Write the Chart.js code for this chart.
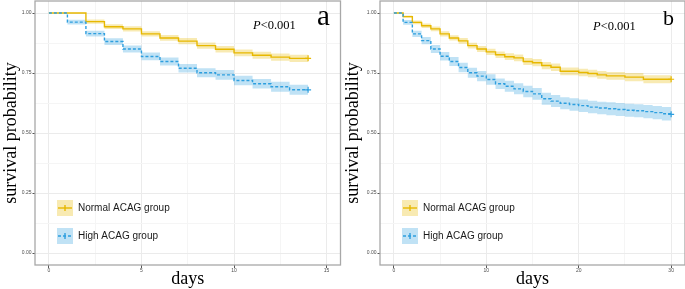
<!DOCTYPE html>
<html>
<head>
<meta charset="utf-8">
<script src="https://cdn.jsdelivr.net/npm/chart.js@4.4.1/dist/chart.umd.min.js"></script>
<style>
html, body { margin: 0; padding: 0; background: #fff; }
#wrap { position: relative; width: 685px; height: 289px; overflow: hidden; }
canvas { position: absolute; top: 0; }
#chartA { left: 0; }
#chartB { left: 342px; }
</style>
</head>
<body>
<div id="wrap">
  <canvas id="chartA" width="342" height="289"></canvas>
  <canvas id="chartB" width="343" height="289"></canvas>
</div>
<script>
// groups
const groupLabels = ['Normal ACAG group', 'High ACAG group'];
const groupColors = ['#E7B800', '#2E9FDF'];
const bandColors = ['rgba(231,184,0,0.3)', 'rgba(46,159,223,0.3)'];

// panel a (14 days)
const daysA = [0, 1, 2, 3, 4, 5, 6, 7, 8, 9, 10, 11, 12, 13, 14];
const normalA     = [1, 1, 0.964, 0.943, 0.934, 0.913, 0.896, 0.883, 0.864, 0.849, 0.834, 0.824, 0.816, 0.811, 0.811];
const normalLowA  = [1, 1, 0.955, 0.933, 0.923, 0.902, 0.884, 0.870, 0.851, 0.835, 0.820, 0.809, 0.801, 0.796, 0.796];
const normalHighA = [1, 1, 0.973, 0.953, 0.945, 0.924, 0.908, 0.896, 0.877, 0.863, 0.848, 0.839, 0.831, 0.826, 0.826];
const highA       = [1, 0.962, 0.914, 0.881, 0.850, 0.819, 0.798, 0.770, 0.751, 0.742, 0.719, 0.705, 0.693, 0.680, 0.680];
const highLowA    = [1, 0.952, 0.902, 0.867, 0.835, 0.803, 0.781, 0.752, 0.732, 0.722, 0.699, 0.685, 0.672, 0.659, 0.659];
const highHighA   = [1, 0.972, 0.926, 0.895, 0.865, 0.835, 0.815, 0.788, 0.770, 0.762, 0.739, 0.725, 0.714, 0.701, 0.701];

// panel b (30 days)
const daysB = [0, 1, 2, 3, 4, 5, 6, 7, 8, 9, 10, 11, 12, 13, 14, 15, 16, 17, 18, 19, 20, 21, 22, 23, 24, 25, 26, 27, 28, 29, 30];
const normalB     = [1, 0.985, 0.961, 0.947, 0.934, 0.913, 0.896, 0.884, 0.864, 0.850, 0.838, 0.826, 0.818, 0.813, 0.798, 0.793,
                     0.781, 0.774, 0.757, 0.757, 0.752, 0.748, 0.742, 0.738, 0.738, 0.733, 0.733, 0.724, 0.724, 0.724, 0.724];
const normalLowB  = [1, 0.980, 0.953, 0.938, 0.924, 0.902, 0.885, 0.872, 0.852, 0.837, 0.825, 0.812, 0.804, 0.799, 0.783, 0.778,
                     0.766, 0.758, 0.741, 0.741, 0.736, 0.732, 0.726, 0.722, 0.722, 0.716, 0.716, 0.707, 0.707, 0.707, 0.707];
const normalHighB = [1, 0.990, 0.969, 0.956, 0.944, 0.924, 0.907, 0.896, 0.876, 0.863, 0.851, 0.840, 0.832, 0.827, 0.813, 0.808,
                     0.796, 0.790, 0.773, 0.773, 0.768, 0.764, 0.758, 0.754, 0.754, 0.750, 0.750, 0.741, 0.741, 0.741, 0.741];
const highB       = [1, 0.961, 0.913, 0.885, 0.850, 0.820, 0.798, 0.773, 0.751, 0.737, 0.723, 0.705, 0.695, 0.684, 0.673, 0.663,
                     0.643, 0.633, 0.624, 0.619, 0.614, 0.608, 0.604, 0.601, 0.598, 0.595, 0.593, 0.589, 0.585, 0.580, 0.578];
const highLowB    = [1, 0.951, 0.900, 0.870, 0.833, 0.802, 0.779, 0.753, 0.730, 0.716, 0.701, 0.683, 0.672, 0.661, 0.649, 0.639,
                     0.618, 0.608, 0.599, 0.593, 0.588, 0.582, 0.578, 0.574, 0.571, 0.568, 0.566, 0.561, 0.557, 0.552, 0.550];
const highHighB   = [1, 0.971, 0.926, 0.900, 0.867, 0.838, 0.817, 0.793, 0.772, 0.758, 0.745, 0.727, 0.718, 0.707, 0.697, 0.687,
                     0.668, 0.658, 0.649, 0.645, 0.640, 0.634, 0.630, 0.628, 0.625, 0.622, 0.620, 0.617, 0.613, 0.608, 0.606];

// axes
const xTicksA = [0, 5, 10, 15];
const xTicksB = [0, 10, 20, 30];
const yTicks = [0, 0.25, 0.5, 0.75, 1];
const pValueText = ['P', '<0.001'];

const serif = '"Liberation Serif", "Times New Roman", Times, serif';
const sans = '"Liberation Sans", Arial, Helvetica, sans-serif';

const pts = (days, vals) => days.map((d, i) => ({ x: d, y: vals[i] }));
const withMinor = (ticks) => {
  const out = ticks.slice();
  for (let i = 0; i < ticks.length - 1; i++) out.push((ticks[i] + ticks[i + 1]) / 2);
  return out.sort((a, b) => a - b);
};

// draws border, p-value, panel tag and the in-plot legend
const decorPlugin = {
  id: 'decor',
  afterDatasetsDraw(chart, args, opts) {
    const ctx = chart.ctx;
    const ca = chart.chartArea;
    ctx.save();
    ctx.strokeStyle = '#a8a8a8';
    ctx.lineWidth = 1.3;
    ctx.strokeRect(ca.left, ca.top, ca.right - ca.left, ca.bottom - ca.top);

    // p value
    ctx.fillStyle = '#000';
    ctx.textBaseline = 'alphabetic';
    ctx.textAlign = 'left';
    ctx.font = 'italic 12.5px ' + serif;
    ctx.fillText(pValueText[0], opts.pX, opts.pY);
    const w = ctx.measureText(pValueText[0]).width;
    ctx.font = '12.5px ' + serif;
    ctx.fillText(pValueText[1], opts.pX + w, opts.pY);

    // panel tag
    ctx.font = opts.tagSize + 'px ' + serif;
    ctx.fillText(opts.tag, opts.tagX, 25);

    // legend
    groupLabels.forEach((lab, i) => {
      const bx = ca.left + 22, by = 200 + i * 28, s = 16;
      ctx.fillStyle = bandColors[i];
      ctx.fillRect(bx, by, s, s);
      ctx.strokeStyle = groupColors[i];
      ctx.lineWidth = 1.4;
      ctx.setLineDash(i === 1 ? [3, 2] : []);
      ctx.beginPath();
      ctx.moveTo(bx + 1, by + s / 2);
      ctx.lineTo(bx + s - 1, by + s / 2);
      ctx.stroke();
      ctx.setLineDash([]);
      ctx.beginPath();
      ctx.moveTo(bx + s / 2, by + s / 2 - 3);
      ctx.lineTo(bx + s / 2, by + s / 2 + 3);
      ctx.stroke();
      ctx.fillStyle = '#1a1a1a';
      ctx.font = '10px ' + sans;
      ctx.textBaseline = 'middle';
      ctx.fillText(lab, bx + s + 5, by + s / 2);
      ctx.textBaseline = 'alphabetic';
    });
    ctx.restore();
  }
};

function makeChart(id, cfg) {
  const xAll = withMinor(cfg.xTicks);
  const yAll = withMinor(yTicks);
  const xSpan = cfg.xTicks[cfg.xTicks.length - 1] - cfg.xTicks[0];
  const isMajX = (v) => cfg.xTicks.some(t => Math.abs(t - v) < 1e-6);
  const isMajY = (v) => yTicks.some(t => Math.abs(t - v) < 1e-6);
  const lastPoint = (c) => (c.dataIndex === c.dataset.data.length - 1 ? 3 : 0);

  const datasets = [
    { label: groupLabels[1], data: pts(cfg.days, cfg.high), borderColor: groupColors[1], borderWidth: 1.4,
      borderDash: [3, 2], pointStyle: 'cross', pointRadius: lastPoint, pointBorderColor: groupColors[1],
      pointBorderWidth: 1.2, fill: false },
    { label: groupLabels[0], data: pts(cfg.days, cfg.normal), borderColor: groupColors[0], borderWidth: 1.4,
      pointStyle: 'cross', pointRadius: lastPoint, pointBorderColor: groupColors[0],
      pointBorderWidth: 1.2, fill: false },
    { data: pts(cfg.days, cfg.highHigh), borderWidth: 0, pointRadius: 0, backgroundColor: bandColors[1], fill: '+1' },
    { data: pts(cfg.days, cfg.highLow), borderWidth: 0, pointRadius: 0, fill: false },
    { data: pts(cfg.days, cfg.normalHigh), borderWidth: 0, pointRadius: 0, backgroundColor: bandColors[0], fill: '+1' },
    { data: pts(cfg.days, cfg.normalLow), borderWidth: 0, pointRadius: 0, fill: false }
  ];

  return new Chart(document.getElementById(id), {
    type: 'line',
    data: { datasets },
    plugins: [decorPlugin],
    options: {
      responsive: false,
      animation: false,
      events: [],
      elements: { line: { stepped: true, tension: 0 } },
      layout: { autoPadding: false, padding: { top: 1, right: cfg.padRight, left: 0, bottom: 0 } },
      plugins: {
        legend: { display: false },
        tooltip: { enabled: false },
        decor: cfg.decor
      },
      scales: {
        x: {
          type: 'linear',
          min: cfg.xTicks[0] - 0.05 * xSpan,
          max: cfg.xTicks[cfg.xTicks.length - 1] + 0.05 * xSpan,
          afterBuildTicks: (s) => { s.ticks = xAll.map(v => ({ value: v })); },
          afterFit: (s) => { s.height = 24; s.paddingLeft = 0; s.paddingRight = 0; },
          border: { display: false },
          grid: {
            color: (c) => (c.tick && isMajX(c.tick.value) ? '#ebebeb' : '#f5f5f5'),
            tickColor: (c) => (c.tick && isMajX(c.tick.value) ? '#555' : 'rgba(0,0,0,0)'),
            tickLength: 3
          },
          ticks: {
            autoSkip: false, maxRotation: 0, padding: 0,
            color: '#4d4d4d', font: { size: 5, family: sans },
            callback: (v) => (isMajX(v) ? String(v) : '')
          },
          title: {
            display: true, text: 'days', color: '#000',
            font: { family: serif, size: 18, lineHeight: 1.1 },
            padding: { top: 0, bottom: 0 }
          }
        },
        y: {
          type: 'linear',
          min: -0.05, max: 1.05,
          afterBuildTicks: (s) => { s.ticks = yAll.map(v => ({ value: v })); },
          afterFit: (s) => { s.width = cfg.yWidth; s.paddingTop = 0; s.paddingBottom = 0; },
          border: { display: false },
          grid: {
            color: (c) => (c.tick && isMajY(c.tick.value) ? '#ebebeb' : '#f5f5f5'),
            tickColor: (c) => (c.tick && isMajY(c.tick.value) ? '#555' : 'rgba(0,0,0,0)'),
            tickLength: 2.5
          },
          ticks: {
            autoSkip: false, padding: 1,
            color: '#4d4d4d', font: { size: 5, family: sans },
            callback: (v) => (isMajY(v) ? v.toFixed(2) : '')
          },
          title: {
            display: true, text: 'survival probability', color: '#000',
            font: { family: serif, size: 18, lineHeight: 1.2 },
            padding: { top: 0, bottom: 0 }
          }
        }
      }
    }
  });
}

makeChart('chartA', {
  days: daysA, normal: normalA, normalLow: normalLowA, normalHigh: normalHighA,
  high: highA, highLow: highLowA, highHigh: highHighA,
  xTicks: xTicksA, yWidth: 35, padRight: 1.5,
  decor: { pX: 253, pY: 28.5, tag: 'a', tagX: 317, tagSize: 29 }
});

makeChart('chartB', {
  days: daysB, normal: normalB, normalLow: normalLowB, normalHigh: normalHighB,
  high: highB, highLow: highLowB, highHigh: highHighB,
  xTicks: xTicksB, yWidth: 38, padRight: 0,
  decor: { pX: 251, pY: 29.5, tag: 'b', tagX: 321, tagSize: 22 }
});
</script>
</body>
</html>
